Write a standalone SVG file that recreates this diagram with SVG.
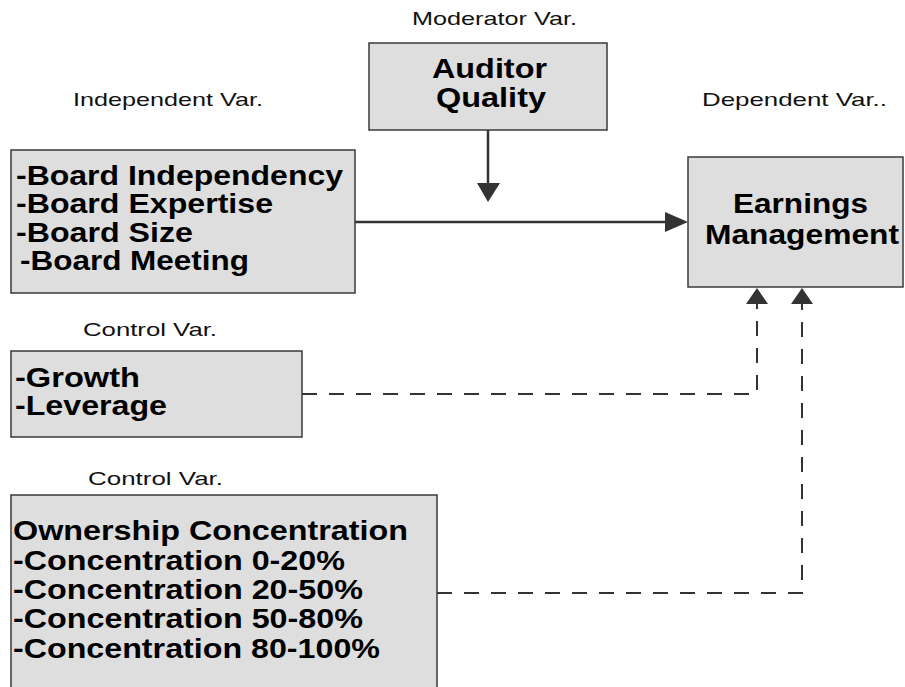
<svg xmlns="http://www.w3.org/2000/svg" width="905" height="687" viewBox="0 0 905 687">
<style>
.box{fill:#dedede;stroke:#3a3a3a;stroke-width:1.5}
.lbl{font-family:"Liberation Sans",Arial,sans-serif;font-size:19px;fill:#111}
.bt{font-family:"Liberation Sans",Arial,sans-serif;font-size:27px;font-weight:bold;fill:#000}
.ln{fill:none;stroke:#333;stroke-width:2.5}
.dash{fill:none;stroke:#333;stroke-width:2;stroke-dasharray:15 12}
.ah{fill:#333}
</style>
<rect width="905" height="687" fill="#fff"/>
<g id="labels">
<text class="lbl" x="412" y="25" textLength="165" lengthAdjust="spacingAndGlyphs">Moderator Var.</text>
<text class="lbl" x="73" y="106" textLength="190" lengthAdjust="spacingAndGlyphs">Independent Var.</text>
<text class="lbl" x="702" y="106" textLength="185" lengthAdjust="spacingAndGlyphs">Dependent Var..</text>
<text class="lbl" x="83" y="336" textLength="134" lengthAdjust="spacingAndGlyphs">Control Var.</text>
<text class="lbl" x="88" y="485" textLength="135" lengthAdjust="spacingAndGlyphs">Control Var.</text>
</g>
<g id="connectors">
<line class="ln" x1="488" y1="130" x2="488" y2="184"/>
<polygon class="ah" points="477,183 500,183 488,202"/>
<line class="ln" x1="355" y1="222" x2="666" y2="222"/>
<polygon class="ah" points="665,212 665,232 688,222"/>
<path class="dash" d="M302,394 H757 V304"/>
<polygon class="ah" points="746,304 768,304 757,288"/>
<path class="dash" d="M437,593 H802 V304"/>
<polygon class="ah" points="791,304 813,304 802,288"/>
</g>
<g id="auditor">
<rect class="box" x="369" y="43" width="238" height="87"/>
<text class="bt" x="432" y="78" textLength="115" lengthAdjust="spacingAndGlyphs">Auditor</text>
<text class="bt" x="436" y="107" textLength="110" lengthAdjust="spacingAndGlyphs">Quality</text>
</g>
<g id="board">
<rect class="box" x="11" y="150" width="344" height="143"/>
<text class="bt" x="16" y="185" textLength="327" lengthAdjust="spacingAndGlyphs">-Board Independency</text>
<text class="bt" x="16" y="213" textLength="257" lengthAdjust="spacingAndGlyphs">-Board Expertise</text>
<text class="bt" x="16" y="242" textLength="177" lengthAdjust="spacingAndGlyphs">-Board Size</text>
<text class="bt" x="20" y="270" textLength="229" lengthAdjust="spacingAndGlyphs">-Board Meeting</text>
</g>
<g id="earnings">
<rect class="box" x="688" y="157" width="215" height="130"/>
<text class="bt" x="733" y="213" textLength="135" lengthAdjust="spacingAndGlyphs">Earnings</text>
<text class="bt" x="705" y="244" textLength="194" lengthAdjust="spacingAndGlyphs">Management</text>
</g>
<g id="control1">
<rect class="box" x="11" y="351" width="291" height="86"/>
<text class="bt" x="15" y="387" textLength="125" lengthAdjust="spacingAndGlyphs">-Growth</text>
<text class="bt" x="15" y="415" textLength="152" lengthAdjust="spacingAndGlyphs">-Leverage</text>
</g>
<g id="ownership">
<rect class="box" x="11" y="495" width="426" height="210"/>
<text class="bt" x="13" y="540" textLength="395" lengthAdjust="spacingAndGlyphs">Ownership Concentration</text>
<text class="bt" x="13" y="570" textLength="332" lengthAdjust="spacingAndGlyphs">-Concentration 0-20%</text>
<text class="bt" x="13" y="599" textLength="350" lengthAdjust="spacingAndGlyphs">-Concentration 20-50%</text>
<text class="bt" x="13" y="628" textLength="350" lengthAdjust="spacingAndGlyphs">-Concentration 50-80%</text>
<text class="bt" x="13" y="658" textLength="367" lengthAdjust="spacingAndGlyphs">-Concentration 80-100%</text>
</g>
</svg>
